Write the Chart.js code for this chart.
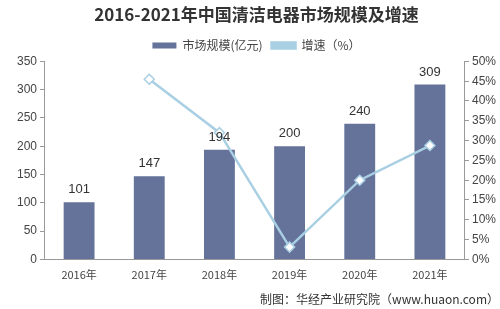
<!DOCTYPE html>
<html>
<head>
<meta charset="utf-8">
<script src="https://cdn.jsdelivr.net/npm/chart.js@4/dist/chart.umd.min.js"></script>
<style>
  html, body { margin: 0; padding: 0; background: #fff; }
  #wrap { width: 500px; height: 309px; }
</style>
</head>
<body>
<div id="wrap"><canvas id="c"></canvas></div>
<script>
const years = ["2016年", "2017年", "2018年", "2019年", "2020年", "2021年"];
const marketSize = [101, 147, 194, 200, 240, 309];
const growthRate = [null, 0.455, 0.32, 0.031, 0.20, 0.2875];

const FONT = "'Noto Sans CJK SC', 'Liberation Sans', sans-serif";

// numbers above the bars
const barLabels = {
    id: "barLabels",
    afterDatasetsDraw(chart) {
        const ctx = chart.ctx;
        const meta = chart.getDatasetMeta(1);
        ctx.save();
        ctx.font = "13px 'Liberation Sans', Arial, sans-serif";
        ctx.fillStyle = "#333";
        ctx.textAlign = "center";
        ctx.textBaseline = "bottom";
        meta.data.forEach((bar, i) => {
            ctx.fillText(marketSize[i], bar.x, bar.y - 6);
        });
        ctx.restore();
    }
};

const ctx = document.getElementById("c").getContext("2d");
new Chart(ctx, {
    data: {
        labels: years,
        datasets: [
            {
                type: "line",
                label: "增速（%）",
                data: growthRate,
                yAxisID: "y1",
                borderColor: "#a9cfe3",
                backgroundColor: "#a9cfe3",
                borderWidth: 2.5,
                pointStyle: "rectRot",
                pointRadius: 5,
                pointBackgroundColor: "#fff",
                pointBorderColor: "#a9cfe3",
                pointBorderWidth: 1.5,
                tension: 0,
                order: 0
            },
            {
                type: "bar",
                label: "市场规模(亿元)",
                data: marketSize,
                yAxisID: "y",
                backgroundColor: "#65729a",
                categoryPercentage: 1,
                barPercentage: 0.44,
                order: 1
            }
        ]
    },
    options: {
        responsive: true,
        maintainAspectRatio: false,
        animation: false,
        layout: { padding: { left: 14, right: 1, top: 2, bottom: 0 } },
        plugins: {
            title: {
                display: true,
                text: "2016-2021年中国清洁电器市场规模及增速",
                font: { family: FONT, size: 17, weight: "bold" },
                color: "#333",
                padding: { top: 2, bottom: 6 }
            },
            subtitle: {
                display: true,
                position: "bottom",
                align: "end",
                text: "制图：华经产业研究院（www.huaon.com）",
                font: { family: FONT, size: 12 },
                color: "#333",
                padding: { top: 2, bottom: 2 }
            },
            legend: {
                reverse: true,
                labels: {
                    boxWidth: 24,
                    boxHeight: 6,
                    font: { family: FONT, size: 12 },
                    color: "#444",
                    padding: 9
                }
            },
            tooltip: { enabled: false }
        },
        scales: {
            x: {
                grid: { display: false, drawTicks: false },
                border: { color: "#999" },
                ticks: { font: { family: FONT, size: 11 }, color: "#444", padding: 9 }
            },
            y: {
                position: "left",
                min: 0,
                max: 350,
                ticks: { stepSize: 50, font: { family: "'Liberation Sans', sans-serif", size: 12 }, color: "#444" },
                grid: { drawOnChartArea: false, tickLength: 4, color: "#999" },
                border: { color: "#999" }
            },
            y1: {
                position: "right",
                min: 0,
                max: 0.5,
                ticks: {
                    stepSize: 0.05,
                    font: { family: "'Liberation Sans', sans-serif", size: 12 },
                    color: "#444",
                    callback: v => Math.round(v * 100) + "%"
                },
                grid: { drawOnChartArea: false, tickLength: 4, color: "#999" },
                border: { color: "#999" }
            }
        }
    },
    plugins: [barLabels]
});
</script>
</body>
</html>
